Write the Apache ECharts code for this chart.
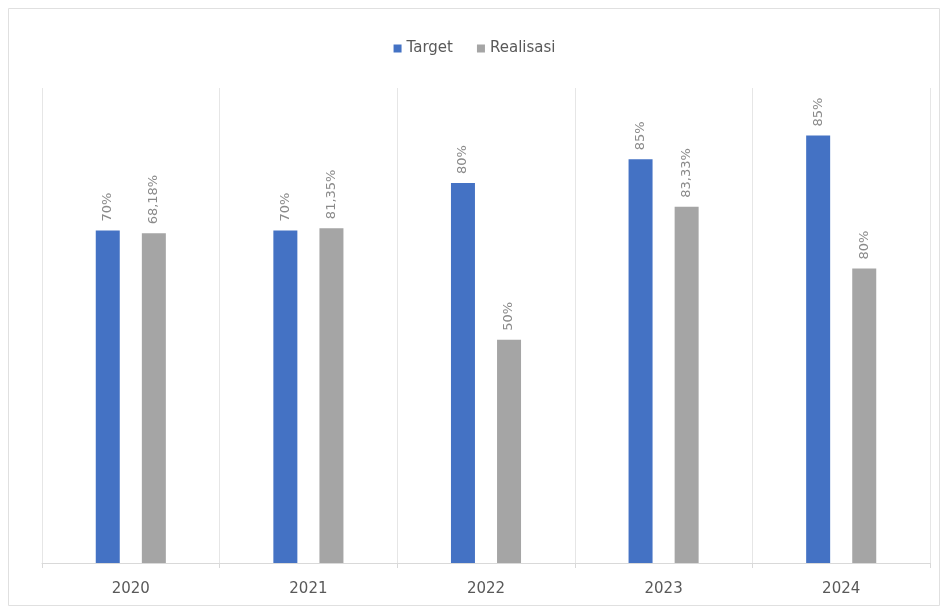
<!DOCTYPE html>
<html>
<head>
<meta charset="utf-8">
<script src="https://cdn.jsdelivr.net/npm/echarts@6/dist/echarts.min.js"></script>
<style>
html,body{margin:0;padding:0;background:#fff;}
#c{width:949px;height:614px;}
</style>
</head>
<body>
<div id="c"></div>
<script>
const categories = ["2020", "2021", "2022", "2023", "2024"];
const targetValues = [70, 70, 80, 85, 90];
const realisasiValues = [69.4, 70.5, 47, 75, 62];
const targetLabels = ["70%", "70%", "80%", "85%", "85%"];
const realisasiLabels = ["68,18%", "81,35%", "50%", "83,33%", "80%"];

const FONT = 'DejaVu Sans, Liberation Sans, sans-serif';
const chart = echarts.init(document.getElementById('c'), null, {renderer: 'canvas'});
const labelCommon = {
  show: true,
  position: 'top',
  rotate: 90,
  align: 'left',
  verticalAlign: 'middle',
  distance: 9,
  color: '#8a8a8a',
  fontSize: 13,
  fontFamily: FONT
};
chart.setOption({
  animation: false,
  backgroundColor: '#fff',
  graphic: [{
    type: 'rect',
    shape: {x: 8.5, y: 8.5, width: 931, height: 597},
    style: {fill: 'none', stroke: '#e0e0e0', lineWidth: 1},
    silent: true
  }],
  legend: {
    top: 36,
    left: 'center',
    itemWidth: 8,
    itemHeight: 8,
    itemGap: 24,
    icon: 'rect',
    textStyle: {color: '#595959', fontSize: 15, fontFamily: FONT},
    data: ['Target', 'Realisasi']
  },
  grid: {left: 42, right: 19, top: 88, bottom: 51, containLabel: false},
  xAxis: {
    type: 'category',
    data: categories,
    axisLine: {show: true, lineStyle: {color: '#d9d9d9'}},
    axisTick: {show: true, length: 5, lineStyle: {color: '#d9d9d9'}},
    splitLine: {show: true, lineStyle: {color: '#e6e6e6'}},
    axisLabel: {color: '#595959', fontSize: 15, margin: 19, fontFamily: FONT}
  },
  yAxis: {
    type: 'value',
    min: 0,
    max: 100,
    show: false,
    splitLine: {show: false}
  },
  series: [
    {
      name: 'Target',
      type: 'bar',
      data: targetValues,
      barWidth: 24,
      barGap: '92%',
      itemStyle: {color: '#4472C4'},
      label: Object.assign({}, labelCommon, {formatter: p => targetLabels[p.dataIndex]})
    },
    {
      name: 'Realisasi',
      type: 'bar',
      data: realisasiValues,
      barWidth: 24,
      itemStyle: {color: '#A5A5A5'},
      label: Object.assign({}, labelCommon, {formatter: p => realisasiLabels[p.dataIndex]})
    }
  ]
});
</script>
</body>
</html>
